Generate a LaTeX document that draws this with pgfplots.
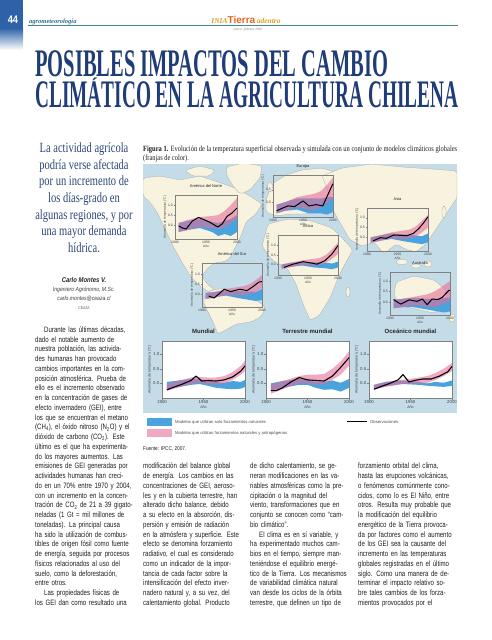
\documentclass[border=0pt]{standalone}
\usepackage{pgfplots}
\pgfplotsset{compat=1.18}
\usepackage{fontspec}
\setmainfont{Liberation Serif}
\setsansfont{Liberation Sans}
\newfontfamily\bodyfont[FakeStretch=0.78]{Liberation Sans}
\newfontfamily\quotefont[FakeStretch=0.75]{Liberation Serif}
\newfontfamily\capfont[FakeStretch=0.8]{Liberation Serif}
\newfontfamily\narrowsans[FakeStretch=0.85]{Liberation Sans}

\definecolor{titleblue}{HTML}{1F3B78}
\definecolor{quoteblue}{HTML}{2B4777}
\definecolor{pageblue}{HTML}{2D62A8}
\definecolor{hdrteal}{HTML}{3F8A8C}
\definecolor{hdrtext}{HTML}{2E6C8E}
\definecolor{iniagold}{HTML}{D9A21B}
\definecolor{tierra}{HTML}{E8641C}
\definecolor{sea}{HTML}{C3DCE8}
\definecolor{land}{HTML}{F7F3DF}
\definecolor{natblue}{HTML}{4AA3DC}
\definecolor{anthpink}{RGB}{230,110,155}
\definecolor{legpink}{RGB}{240,168,195}
\definecolor{textgray}{HTML}{1E1E1E}
\definecolor{framegray}{HTML}{808080}

\newcommand\jl[1]{\makebox[98pt][s]{#1}\\}
\newcommand\el[1]{\makebox[98pt][l]{#1}\\}
\newcommand\fl[1]{\makebox[98pt][s]{#1}}

\pgfplotsset{
  panel/.style={scale only axis, anchor=north west, xmin=1900, xmax=2000,
    axis line style={draw=framegray, line width=0.4pt},
    xtick={1900,1950,2000}, xticklabels={1900,1950,2000},
    ytick={0,0.5,1}, yticklabels={0.0,0.5,1.0},
    tick align=outside, xtick pos=bottom, ytick pos=left,
    tick style={draw=framegray, line width=0.3pt},
    xlabel={Año}, ylabel={Anomalía de temperatura (°C)}, clip=true},
  reg/.style={panel, major tick length=1.2pt,
    tick label style={font=\sffamily\fontsize{3.4}{3.6}\selectfont, text=black!75, inner sep=0.8pt},
    label style={font=\sffamily\fontsize{3.2}{3.4}\selectfont, text=black!75, inner sep=0.5pt},
    title style={font=\sffamily\fontsize{4}{4.5}\selectfont, text=black!85, at={(0.5,1)}, anchor=south, inner sep=0.8pt}},
  glob/.style={panel, major tick length=1.6pt, width=83pt, height=57pt, ymin=-0.5, ymax=1.45,
    axis background/.style={fill=white},
    tick label style={font=\sffamily\fontsize{4.3}{4.6}\selectfont, text=black!75, inner sep=1pt},
    label style={font=\sffamily\fontsize{3.6}{3.8}\selectfont, text=black!75, inner sep=0.6pt},
    title style={font=\sffamily\bfseries\fontsize{6}{6.5}\selectfont, text=black!85, at={(0.5,1)}, anchor=south, inner sep=1.2pt}},
  nat/.style={fill=natblue, draw=none},
  ant/.style={fill=anthpink, fill opacity=0.6, draw=none},
  obs/.style={black, line width=1pt, line join=round},
}

\begin{document}
\begin{tikzpicture}
\begin{scope}[x=1pt,y=-1pt]
\path[use as bounding box, fill=white] (0,0) rectangle (492,640);

% ---- header
\fill[pageblue] (0,0) rectangle (23,28);
\shade[top color=pageblue, bottom color=white] (0,28) rectangle (23,50);
\node[text=white, font=\narrowsans\bfseries\fontsize{11}{11}\selectfont, inner sep=0] at (13,20) {44};
\draw[hdrteal, line width=0.8pt] (28,25.5) -- (458,25.5);
\node[anchor=base west, inner sep=0, text=hdrtext, font=\bfseries\itshape\fontsize{6.5}{7}\selectfont] at (29,23.5) {agrometeorología};
\node[anchor=base, inner sep=0] at (246,23.5) {{\color{iniagold}\bfseries\itshape\fontsize{7.5}{8}\selectfont INIA}{\color{tierra}\sffamily\bfseries\fontsize{10}{10}\selectfont Tierra}\,{\color{iniagold}\bfseries\itshape\fontsize{7.5}{8}\selectfont adentro}};
\node[inner sep=0, text=black!55, font=\itshape\fontsize{3.5}{4}\selectfont] at (248,30) {enero - febrero 2010};

% ---- title
\node[anchor=base west, inner sep=0, text=titleblue] at (35,76)
  {\resizebox{353pt}{\height}{\fontsize{39}{39}\selectfont\bfseries POSIBLES IMPACTOS DEL CAMBIO}};
\node[anchor=base west, inner sep=0, text=titleblue] at (35,107)
  {\resizebox{423pt}{\height}{\fontsize{39}{39}\selectfont\bfseries CLIM\ooalign{A\cr\hidewidth\raisebox{15.5pt}{\scalebox{1.1}[0.5]{´}}\hidewidth\cr}TICO EN LA AGRICULTURA CHILENA}};

% ---- pull quote
\node[align=center, inner sep=0, text=quoteblue, font=\quotefont\fontsize{14}{16.7}\selectfont, anchor=north] at (84,142.5)
 {La actividad agrícola\\podría verse afectada\\por un incremento de\\los días-grado en\\algunas regiones, y por\\una mayor demanda\\hídrica.};

% ---- author
\node[inner sep=0, text=black!85, font=\narrowsans\bfseries\itshape\fontsize{7}{8}\selectfont] at (84,279.5) {Carlo Montes V.};
\node[inner sep=0, text=black!75, font=\narrowsans\itshape\fontsize{6}{7}\selectfont] at (84,289.5) {Ingeniero Agrónomo, M.Sc.};
\node[inner sep=0, text=black!75, font=\narrowsans\itshape\fontsize{6}{7}\selectfont] at (84,298.5) {carlo.montes@ceaza.cl};
\node[inner sep=0, text=black!65, font=\narrowsans\fontsize{4}{5}\selectfont] at (84,308) {CEAZA};

% ---- caption
\node[anchor=base west, inner sep=0, text=textgray] at (143,151.5)
 {\resizebox{314pt}{\height}{\capfont\fontsize{8}{9}\selectfont\textbf{Figura 1.} Evolución de la temperatura superficial observada y simulada con un conjunto de modelos climáticos globales}};
\node[anchor=base west, inner sep=0, text=textgray, font=\capfont\fontsize{8}{9}\selectfont] at (143,160.5) {(franjas de color).};

% ---- map background
\fill[sea] (143,164) rectangle (457,413);
\begin{scope}
\clip (143,164) rectangle (457,413);
\begin{scope}[fill=land, draw=black!35, line width=0.25pt, rounded corners=2pt]
\filldraw (143,178) -- (160,176) -- (180,180) -- (200,176) -- (218,182) -- (235,188) -- (250,196) -- (262,204) -- (256,214) -- (246,222) -- (241,236) -- (235,248) -- (230,258) -- (224,262) -- (216,262) -- (208,268) -- (202,276) -- (207,284) -- (214,289) -- (209,292) -- (200,286) -- (191,277) -- (183,264) -- (174,248) -- (166,231) -- (158,214) -- (150,202) -- (143,196) -- cycle;
\filldraw (185,170) -- (200,166) -- (215,170) -- (210,176) -- (192,176) -- cycle;
\filldraw (226,167) -- (244,163) -- (262,166) -- (260,178) -- (250,190) -- (240,194) -- (233,186) -- (227,176) -- cycle;
\filldraw (209,291) -- (224,288) -- (240,292) -- (254,299) -- (265,306) -- (262,316) -- (251,322) -- (236,324) -- (226,330) -- (218,334) -- (213,322) -- (208,312) -- (203,301) -- cycle;
\filldraw (266,200) -- (272,184) -- (286,175) -- (302,170) -- (322,168) -- (334,172) -- (334,196) -- (324,208) -- (306,214) -- (290,214) -- (276,216) -- (266,212) -- cycle;
\filldraw (268,224) -- (288,219) -- (312,221) -- (332,228) -- (344,240) -- (353,250) -- (346,262) -- (338,278) -- (330,298) -- (319,316) -- (310,320) -- (303,304) -- (296,284) -- (287,268) -- (272,260) -- (262,246) -- cycle;
\filldraw (322,176) -- (342,168) -- (372,164) -- (402,167) -- (432,169) -- (457,171) -- (457,198) -- (446,214) -- (436,229) -- (426,244) -- (416,252) -- (405,249) -- (396,244) -- (384,254) -- (374,242) -- (362,246) -- (350,240) -- (342,226) -- (334,212) -- (330,196) -- cycle;
\filldraw (396,282) -- (414,276) -- (434,280) -- (446,290) -- (446,305) -- (434,313) -- (416,309) -- (402,306) -- (394,296) -- cycle;
\end{scope}
\filldraw[fill=land, draw=black!35, line width=0.25pt] (402,262) ellipse (6 and 2.5) (416,266) ellipse (5 and 2) (428,264) ellipse (4 and 3) (270,187) ellipse (2.5 and 5) (348,292) ellipse (2 and 5) (444,212) ellipse (2 and 6) (452,318) ellipse (3 and 4);
\end{scope}

% ---- legend
\fill[natblue] (147,417.5) rectangle (172,426);
\fill[legpink] (147,428.5) rectangle (172,437);
\node[anchor=west, inner sep=0, text=black!70, font=\sffamily\fontsize{4.2}{5}\selectfont] at (175,422) {Modelos que utilizan solo forzamientos naturales};
\node[anchor=west, inner sep=0, text=black!70, font=\sffamily\fontsize{4.2}{5}\selectfont] at (175,433) {Modelos que utilizan forzamientos naturales y antropógenos};
\draw[black, line width=1.3pt] (347,421.5) -- (367,421.5);
\node[anchor=west, inner sep=0, text=black!70, font=\sffamily\fontsize{4.2}{5}\selectfont] at (370,421.5) {Observaciones};
\node[anchor=west, inner sep=0, text=textgray, font=\narrowsans\fontsize{5.5}{6}\selectfont] at (143,448.5) {Fuente: IPCC, 2007.};

% ---- body columns
\node[anchor=north west, inner sep=0pt, text width=98pt, align=left, text=textgray, font=\bodyfont\fontsize{7.8}{9.75}\selectfont] at (35,326.5) {%
\jl{\hspace*{9pt}Durante las últimas décadas,}
\jl{dado el notable aumento de}
\jl{nuestra población, las activida-}
\jl{des humanas han provocado}
\jl{cambios importantes en la com-}
\jl{posición atmosférica. Prueba de}
\jl{ello es el incremento observado}
\jl{en la concentración de gases de}
\jl{efecto invernadero (GEI), entre}
\jl{los que se encuentran el metano}
\jl{(CH\textsubscript{4}), el óxido nitroso (N\textsubscript{2}O) y el}
\jl{dióxido de carbono (CO\textsubscript{2}). Este}
\jl{último es el que ha experimenta-}
\jl{do los mayores aumentos. Las}
\jl{emisiones de GEI generadas por}
\jl{actividades humanas han creci-}
\jl{do en un 70\% entre 1970 y 2004,}
\jl{con un incremento en la concen-}
\jl{tración de CO\textsubscript{2} de 21 a 39 gigato-}
\jl{neladas (1 Gt = mil millones de}
\jl{toneladas). La principal causa}
\jl{ha sido la utilización de combus-}
\jl{tibles de origen fósil como fuente}
\jl{de energía, seguida por procesos}
\jl{físicos relacionados al uso del}
\jl{suelo, como la deforestación,}
\el{entre otros.}
\jl{\hspace*{9pt}Las propiedades físicas de}
\fl{los GEI dan como resultado una}};

\node[anchor=north west, inner sep=0pt, text width=98pt, align=left, text=textgray, font=\bodyfont\fontsize{7.8}{9.75}\selectfont] at (143,463) {%
\jl{modificación del balance global}
\jl{de energía. Los cambios en las}
\jl{concentraciones de GEI, aeroso-}
\jl{les y en la cubierta terrestre, han}
\jl{alterado dicho balance, debido}
\jl{a su efecto en la absorción, dis-}
\jl{persión y emisión de radiación}
\jl{en la atmósfera y superficie. Este}
\jl{efecto se denomina forzamiento}
\jl{radiativo, el cual es considerado}
\jl{como un indicador de la impor-}
\jl{tancia de cada factor sobre la}
\jl{intensificación del efecto inver-}
\jl{nadero natural y, a su vez, del}
\fl{calentamiento global. Producto}};

\node[anchor=north west, inner sep=0pt, text width=98pt, align=left, text=textgray, font=\bodyfont\fontsize{7.8}{9.75}\selectfont] at (250,463) {%
\jl{de dicho calentamiento, se ge-}
\jl{neran modificaciones en las va-}
\jl{riables atmosféricas como la pre-}
\jl{cipitación o la magnitud del}
\jl{viento, transformaciones que en}
\jl{conjunto se conocen como “cam-}
\el{bio climático”.}
\jl{\hspace*{9pt}El clima es en sí variable, y}
\jl{ha experimentado muchos cam-}
\jl{bios en el tiempo, siempre man-}
\jl{teniéndose el equilibrio energé-}
\jl{tico de la Tierra. Los mecanismos}
\jl{de variabilidad climática natural}
\jl{van desde los ciclos de la órbita}
\fl{terrestre, que definen un tipo de}};

\node[anchor=north west, inner sep=0pt, text width=98pt, align=left, text=textgray, font=\bodyfont\fontsize{7.8}{9.75}\selectfont] at (358,463) {%
\jl{forzamiento orbital del clima,}
\jl{hasta las erupciones volcánicas,}
\jl{o fenómenos comúnmente cono-}
\jl{cidos, como lo es El Niño, entre}
\jl{otros. Resulta muy probable que}
\jl{la modificación del equilibrio}
\jl{energético de la Tierra provoca-}
\jl{da por factores como el aumento}
\jl{de los GEI sea la causante del}
\jl{incremento en las temperaturas}
\jl{globales registradas en el último}
\jl{siglo. Como una manera de de-}
\jl{terminar el impacto relativo so-}
\jl{bre tales cambios de los forza-}
\fl{mientos provocados por el}};
\end{scope}

% ================= regional panels =================
% America del Norte
\begin{axis}[reg, at={(175pt,-195pt)}, width=62pt, height=44pt, ymin=-0.7, ymax=1.5, title={América del Norte}]
\addplot[nat] coordinates {(1906,0.1)(1920,0.2)(1940,0.3)(1950,0.25)(1960,0.15)(1970,0.1)(1980,0.2)(1990,0.3)(2000,0.5)(2000,-0.35)(1990,-0.55)(1980,-0.45)(1970,-0.55)(1960,-0.35)(1940,-0.15)(1920,-0.25)(1906,-0.35)};
\addplot[ant] coordinates {(1906,0.1)(1920,0.25)(1940,0.4)(1960,0.45)(1970,0.5)(1980,0.7)(1990,1.0)(2000,1.35)(2000,0.35)(1990,0.1)(1980,-0.1)(1970,-0.2)(1960,-0.15)(1940,-0.1)(1920,-0.25)(1906,-0.35)};
\addplot[obs] coordinates {(1906,-0.05)(1912,-0.15)(1918,-0.2)(1928,0.2)(1938,0.38)(1948,0.25)(1956,0.14)(1969,-0.1)(1976,0.05)(1984,0.43)(1992,0.6)(2000,0.85)};
\end{axis}
% Europa
\begin{axis}[reg, at={(273pt,-175pt)}, width=60pt, height=42pt, ymin=-0.6, ymax=1.1, ytick={0,0.5}, yticklabels={0.0,0.5}, title={Europa}]
\addplot[nat] coordinates {(1906,-0.1)(1920,0.0)(1940,0.15)(1960,0.15)(1980,0.15)(1990,0.2)(2000,0.2)(2000,-0.4)(1990,-0.5)(1980,-0.45)(1960,-0.45)(1940,-0.3)(1920,-0.35)(1906,-0.45)};
\addplot[ant] coordinates {(1906,-0.1)(1920,0.0)(1940,0.2)(1960,0.3)(1970,0.35)(1980,0.45)(1990,0.7)(2000,1.0)(2000,0.2)(1990,-0.05)(1980,-0.2)(1970,-0.3)(1960,-0.3)(1940,-0.2)(1920,-0.35)(1906,-0.45)};
\addplot[obs] coordinates {(1906,-0.35)(1915,-0.25)(1925,-0.15)(1936,-0.18)(1950,0.05)(1960,-0.15)(1972,-0.1)(1983,-0.15)(1997,0.6)(2000,0.75)};
\end{axis}
% Africa
\begin{axis}[reg, at={(278pt,-235pt)}, width=60pt, height=40pt, ymin=-0.55, ymax=1.55, title={África}]
\addplot[nat] coordinates {(1906,0.0)(1920,0.08)(1940,0.15)(1960,0.12)(1980,0.1)(1990,0.05)(2000,0.15)(2000,-0.15)(1990,-0.25)(1980,-0.2)(1960,-0.15)(1940,-0.05)(1920,-0.12)(1906,-0.2)};
\addplot[ant] coordinates {(1906,0.0)(1920,0.1)(1940,0.22)(1960,0.3)(1970,0.35)(1980,0.5)(1990,0.8)(2000,1.15)(2000,0.55)(1990,0.3)(1980,0.1)(1970,-0.02)(1960,-0.05)(1940,-0.02)(1920,-0.15)(1906,-0.25)};
\addplot[obs] coordinates {(1910,-0.15)(1925,0.02)(1942,0.15)(1955,0.08)(1965,0.02)(1978,0.2)(1990,0.55)(2000,1.0)};
\end{axis}
% Asia
\begin{axis}[reg, at={(367pt,-208pt)}, width=61pt, height=43pt, ymin=-0.7, ymax=1.5, title={Asia}]
\addplot[nat] coordinates {(1906,0.0)(1920,0.08)(1940,0.2)(1960,0.15)(1980,0.1)(1990,0.05)(2000,0.2)(2000,-0.25)(1990,-0.35)(1980,-0.3)(1960,-0.2)(1940,-0.08)(1920,-0.18)(1906,-0.28)};
\addplot[ant] coordinates {(1906,0.0)(1920,0.1)(1940,0.25)(1960,0.35)(1970,0.4)(1980,0.55)(1990,0.85)(2000,1.15)(2000,0.5)(1990,0.25)(1980,0.05)(1970,-0.05)(1960,-0.1)(1940,-0.05)(1920,-0.2)(1906,-0.3)};
\addplot[obs] coordinates {(1910,-0.18)(1922,-0.02)(1932,-0.05)(1944,0.12)(1955,0.1)(1965,0.08)(1976,0.2)(1985,0.45)(1993,0.75)(2000,1.05)};
\end{axis}
% America del Sur
\begin{axis}[reg, at={(202pt,-263pt)}, width=60pt, height=44pt, ymin=-0.65, ymax=1.55, title={América del Sur}]
\addplot[nat] coordinates {(1906,0.05)(1920,0.1)(1940,0.18)(1960,0.15)(1980,0.12)(1990,0.1)(2000,0.25)(2000,-0.3)(1990,-0.35)(1980,-0.3)(1960,-0.2)(1940,-0.08)(1920,-0.15)(1906,-0.25)};
\addplot[ant] coordinates {(1906,0.05)(1920,0.1)(1940,0.25)(1960,0.35)(1970,0.4)(1980,0.5)(1990,0.7)(2000,0.95)(2000,0.3)(1990,0.1)(1980,0.0)(1970,-0.05)(1960,-0.05)(1940,-0.05)(1920,-0.2)(1906,-0.25)};
\addplot[obs] coordinates {(1911,-0.1)(1920,-0.2)(1928,0.0)(1937,0.24)(1948,0.12)(1955,0.18)(1963,0.24)(1975,0.17)(1985,0.37)(1995,0.6)(2000,0.62)};
\end{axis}
% Australia
\begin{axis}[reg, at={(390pt,-272pt)}, width=60pt, height=43pt, ymin=-0.62, ymax=1.43, title={Australia}]
\addplot[nat] coordinates {(1906,0.1)(1920,0.15)(1940,0.2)(1960,0.15)(1980,0.15)(1990,0.2)(2000,0.2)(2000,-0.45)(1990,-0.5)(1980,-0.45)(1960,-0.35)(1940,-0.25)(1920,-0.25)(1906,-0.3)};
\addplot[ant] coordinates {(1906,0.1)(1920,0.15)(1940,0.25)(1960,0.35)(1970,0.45)(1980,0.6)(1990,0.8)(2000,1.0)(2000,0.1)(1990,-0.1)(1980,-0.2)(1970,-0.25)(1960,-0.2)(1940,-0.15)(1920,-0.25)(1906,-0.3)};
\addplot[obs] coordinates {(1906,0.12)(1912,0.0)(1918,-0.1)(1932,0.1)(1945,0.03)(1954,0.14)(1962,-0.13)(1970,0.14)(1980,0.12)(1987,0.22)(1993,0.4)(1998,0.55)(2000,0.55)};
\end{axis}

% ================= global panels =================
\begin{axis}[glob, at={(162pt,-341pt)}, title={Mundial}]
\addplot[nat] coordinates {(1906,0.05)(1915,0.08)(1925,0.12)(1935,0.15)(1945,0.15)(1955,0.08)(1965,0.05)(1975,0.02)(1985,0.08)(1995,0.05)(2000,0.12)(2000,-0.12)(1995,-0.18)(1985,-0.2)(1975,-0.18)(1965,-0.15)(1955,-0.08)(1945,-0.02)(1935,-0.05)(1925,-0.1)(1915,-0.15)(1906,-0.22)};
\addplot[ant] coordinates {(1906,-0.02)(1915,0.05)(1925,0.12)(1935,0.2)(1945,0.22)(1955,0.2)(1965,0.2)(1975,0.25)(1985,0.38)(1995,0.6)(2000,0.78)(2000,0.42)(1995,0.3)(1985,0.12)(1975,0.0)(1965,-0.05)(1955,-0.02)(1945,0.02)(1935,-0.02)(1925,-0.1)(1915,-0.18)(1906,-0.25)};
\addplot[obs, line width=1.1pt] coordinates {(1906,-0.22)(1915,-0.12)(1925,-0.02)(1935,0.1)(1941,0.25)(1948,0.08)(1955,0.1)(1965,0.08)(1975,0.12)(1985,0.22)(1995,0.42)(2000,0.6)};
\end{axis}
\begin{axis}[glob, at={(266pt,-341pt)}, title={Terrestre mundial}]
\addplot[nat] coordinates {(1906,0.0)(1920,0.08)(1940,0.15)(1950,0.12)(1960,0.05)(1970,0.05)(1980,0.1)(1990,0.02)(2000,0.15)(2000,-0.15)(1990,-0.28)(1980,-0.2)(1970,-0.22)(1960,-0.15)(1950,-0.05)(1940,-0.05)(1920,-0.15)(1906,-0.25)};
\addplot[ant] coordinates {(1906,-0.05)(1920,0.08)(1940,0.25)(1950,0.3)(1960,0.3)(1970,0.32)(1980,0.5)(1990,0.75)(2000,1.1)(2000,0.6)(1990,0.3)(1980,0.12)(1970,-0.02)(1960,-0.05)(1950,0.0)(1940,0.0)(1920,-0.2)(1906,-0.35)};
\addplot[obs, line width=1.1pt] coordinates {(1906,-0.25)(1912,-0.25)(1920,-0.15)(1930,0.05)(1940,0.2)(1950,0.12)(1960,0.1)(1970,0.08)(1980,0.25)(1990,0.55)(2000,0.88)};
\end{axis}
\begin{axis}[glob, at={(369pt,-341pt)}, title={Oceánico mundial}]
\addplot[nat] coordinates {(1906,-0.05)(1920,0.05)(1940,0.1)(1960,0.05)(1970,0.0)(1980,0.05)(1990,0.02)(2000,0.1)(2000,-0.08)(1990,-0.12)(1980,-0.1)(1970,-0.08)(1960,-0.05)(1940,-0.02)(1920,-0.1)(1906,-0.2)};
\addplot[ant] coordinates {(1906,-0.05)(1920,0.05)(1940,0.12)(1960,0.2)(1970,0.25)(1980,0.35)(1990,0.5)(2000,0.7)(2000,0.42)(1990,0.25)(1980,0.12)(1970,0.02)(1960,0.0)(1940,-0.02)(1920,-0.12)(1906,-0.22)};
\addplot[obs, line width=1.1pt] coordinates {(1906,-0.2)(1915,-0.1)(1925,0.0)(1935,0.12)(1941,0.3)(1948,0.05)(1955,0.1)(1965,0.15)(1975,0.15)(1985,0.25)(1995,0.4)(2000,0.58)};
\end{axis}
\end{tikzpicture}
\end{document}
